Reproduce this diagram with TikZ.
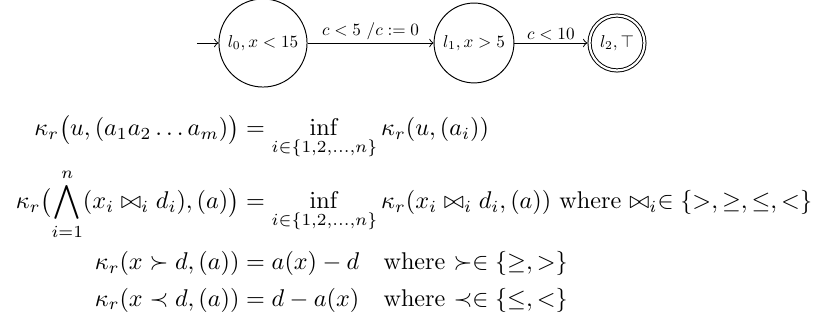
\documentclass[tikz,border=0pt]{standalone}
\usepackage{amsmath,amssymb}
\newcommand{\smallt}[1]{\scalebox{0.71}{#1}}
\begin{document}
\begin{tikzpicture}[x=0.4132pt,y=-0.4132pt,
  statebox/.style={draw,circle,inner sep=0pt},
  lbl/.style={above, inner sep=1pt},
  >=to]
\useasboundingbox (0,0) rectangle (822,324);
\node[statebox,minimum size=36.4pt] (l0) at (263,43) {\smallt{$l_0, x<15$}};
\node[statebox,minimum size=33pt] (l1) at (474,43) {\smallt{$l_1, x>5$}};
\node[statebox,minimum size=22.7pt,double,double distance=0.9pt,outer sep=0.9pt] (l2) at (617,43) {\smallt{$l_2, \top$}};
\coordinate (init) at (197,43);
\draw[->] (init) -- (l0);
\draw[->] (l0) -- node[lbl] {\smallt{$c<5\ /c:=0$}} (l1);
\draw[->] (l1) -- node[lbl] {\smallt{$c<10$}} (l2);
\node[inner sep=0pt] (eq) at (414,215) {$\begin{aligned}
\kappa_r\bigl(u,(a_1a_2\dots a_m)\bigr) &= \inf_{i\in\{1,2,\dots,n\}} \kappa_r(u,(a_i))\\
\kappa_r\bigl(\bigwedge_{i=1}^n (x_i \bowtie_i d_i),(a)\bigr) &= \inf_{i\in\{1,2,\dots,n\}} \kappa_r(x_i \bowtie_i d_i,(a)) \text{ where }{\bowtie_i\in}\;\{>,\geq,\leq,<\}\\
\kappa_r(x\succ d,(a)) &= a(x)-d \quad\text{where }{\succ\in}\;\{\geq,>\}\\
\kappa_r(x\prec d,(a)) &= d-a(x) \quad\text{where }{\prec\in}\;\{\leq,<\}
\end{aligned}$};
\end{tikzpicture}
\end{document}
